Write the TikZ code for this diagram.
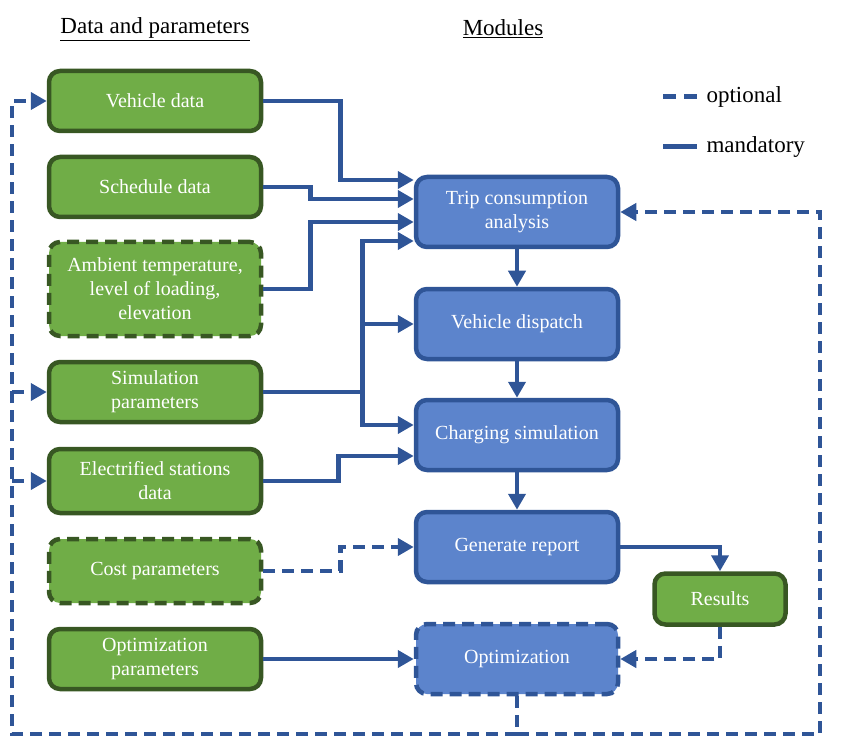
\documentclass[tikz,border=0pt]{standalone}
\usepackage{fontspec}
\setmainfont{Liberation Serif}
\usetikzlibrary{arrows.meta,calc}
\definecolor{gfill}{RGB}{112,173,71}
\definecolor{gdraw}{RGB}{56,87,35}
\definecolor{bfill}{RGB}{92,132,204}
\definecolor{bdraw}{RGB}{47,85,151}
\tikzset{
  gbox/.style={draw=gdraw, fill=gfill, line width=4.5pt, rounded corners=11pt,
    minimum width=212pt, minimum height=60pt, align=center, text=white,
    font=\fontsize{20}{24}\selectfont, inner sep=2pt},
  bbox/.style={draw=bdraw, fill=bfill, line width=4.5pt, rounded corners=11pt,
    minimum width=202pt, minimum height=70pt, align=center, text=white,
    font=\fontsize{20}{24}\selectfont, inner sep=2pt},
  optbox/.style={dash pattern=on 12pt off 7pt},
  arr/.style={draw=bdraw, line width=4.5pt, -{Triangle[length=16pt,width=17pt]}},
  ln/.style={draw=bdraw, line width=4.5pt},
  dsh/.style={dash pattern=on 12pt off 7pt},
  hdr/.style={font=\fontsize{23}{27}\selectfont},
}
\begin{document}
\begin{tikzpicture}[x=1pt,y=-1pt]
\useasboundingbox (0,0) rectangle (841,746);
% headers
\node[hdr] (h1) at (155,29) {\underline{Data and parameters}};
\node[hdr] (h2) at (503,29) {\underline{Modules}};
% legend
\coordinate (l1a) at (663,97); \coordinate (l1b) at (697,97);
\coordinate (l2a) at (663,147); \coordinate (l2b) at (697,147);
\draw[draw=bdraw, line width=5pt, dash pattern=on 13pt off 8pt] (l1a) -- (l1b);
\draw[draw=bdraw, line width=5pt] (l2a) -- (l2b);
\node[hdr, anchor=west] (lt1) at (703,97) {optional};
\node[hdr, anchor=west] (lt2) at (703,147) {mandatory};
% green boxes
\node[gbox] (veh) at (155,101) {Vehicle data};
\node[gbox] (sched) at (155,187) {Schedule data};
\node[gbox, optbox, minimum height=94pt] (amb) at (155,289) {Ambient temperature,\\level of loading,\\elevation};
\node[gbox] (sim) at (155,392) {Simulation\\parameters};
\node[gbox, minimum height=64pt] (elec) at (155,481) {Electrified stations\\data};
\node[gbox, optbox, minimum height=64pt] (cost) at (155,571) {Cost parameters};
\node[gbox] (optp) at (155,659) {Optimization\\parameters};
% blue boxes
\node[bbox] (trip) at (517,212) {Trip consumption\\analysis};
\node[bbox] (disp) at (517,324) {Vehicle dispatch};
\node[bbox] (chg) at (517,435) {Charging simulation};
\node[bbox] (gen) at (517,547) {Generate report};
\node[bbox, optbox] (opt) at (517,659) {Optimization};
\node[gbox, minimum width=131pt, minimum height=51pt] (res) at (720,599) {Results};
% connectors into trip
\draw[arr] (veh.east) -- ++(77,0) |- ([yshift=32pt]trip.west);
\draw[arr] (sched.east) -- ++(47,0) |- ([yshift=13pt]trip.west);
\draw[arr] (amb.east) -- ++(47,0) |- ([yshift=-10pt]trip.west);
\draw[ln] (sim.east) -- ++(99,0) coordinate (sj);
\draw[arr] ([yshift=-2pt]sj) |- ([yshift=-29pt]trip.west);
\draw[arr] ([yshift=2pt]sj) |- ([yshift=10pt]chg.west);
\draw[arr] (sj |- disp.west) -- (disp.west);
\draw[arr] (elec.east) -- ++(75,0) |- ([yshift=-21pt]chg.west);
\draw[arr, dsh] (cost.east) -- ++(77,0) |- (gen.west);
\draw[arr] (optp.east) -- (opt.west);
% chain
\draw[arr] (trip.south) -- (disp.north);
\draw[arr] (disp.south) -- (chg.north);
\draw[arr] (chg.south) -- (gen.north);
\draw[arr] (gen.east) -| (res.north);
\draw[arr, dsh] (res.south) |- (opt.east);
% feedback loop
\coordinate (bj) at (517,734);
\coordinate (bl) at (12,734);
\coordinate (br) at (820,734);
\draw[ln, dsh] (opt.south) -- (bj);
\draw[arr, dsh] (bj) -- (bl) |- (veh.west);
\draw[arr, dsh] (bl |- sim.west) -- (sim.west);
\draw[arr, dsh] (bl |- elec.west) -- (elec.west);
\draw[arr, dsh] (bj) -- (br) |- (trip.east);
\end{tikzpicture}
\end{document}
